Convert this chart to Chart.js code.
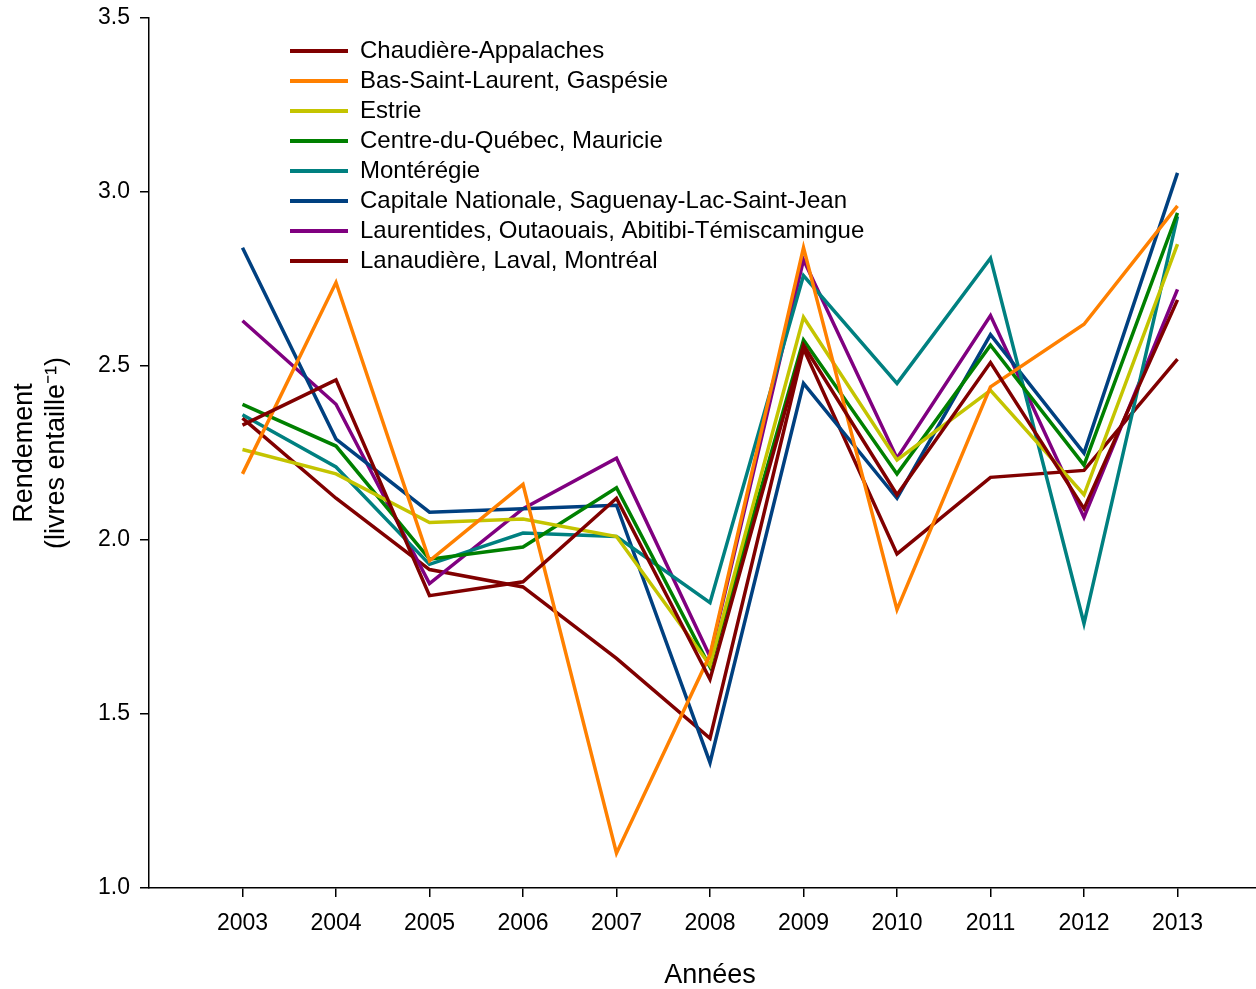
<!DOCTYPE html>
<html>
<head>
<meta charset="utf-8">
<script src="https://cdn.jsdelivr.net/npm/chart.js@4.4.1/dist/chart.umd.min.js"></script>
<style>
  body { margin: 0; background: #fff; }
  #wrap { width: 1256px; height: 989px; overflow: hidden; }
</style>
</head>
<body>
<div id="wrap"><canvas id="myChart" width="1271" height="989"></canvas></div>
<script>
// Années
const years = [2003, 2004, 2005, 2006, 2007, 2008, 2009, 2010, 2011, 2012, 2013];
const yTicks = [1.0, 1.5, 2.0, 2.5, 3.0, 3.5];

// Rendement (livres entaille-1) par région
const chaudiere   = [2.33, 2.46, 1.84, 1.88, 2.12, 1.60, 2.56, 2.13, 2.51, 2.09, 2.69];
const basStLaurent = [2.19, 2.74, 1.94, 2.16, 1.10, 1.67, 2.84, 1.80, 2.44, 2.62, 2.96];
const estrie      = [2.26, 2.19, 2.05, 2.06, 2.01, 1.64, 2.64, 2.23, 2.43, 2.13, 2.85];
const centreQc    = [2.39, 2.27, 1.945, 1.98, 2.15, 1.635, 2.575, 2.19, 2.56, 2.215, 2.94];
const monteregie  = [2.36, 2.21, 1.93, 2.02, 2.01, 1.82, 2.76, 2.45, 2.81, 1.76, 2.93];
const capitale    = [2.84, 2.29, 2.08, 2.09, 2.10, 1.36, 2.45, 2.12, 2.59, 2.25, 3.055];
const laurentides = [2.63, 2.39, 1.875, 2.09, 2.235, 1.665, 2.805, 2.235, 2.645, 2.065, 2.72];
const lanaudiere  = [2.35, 2.12, 1.915, 1.865, 1.66, 1.43, 2.55, 1.96, 2.18, 2.20, 2.52];

const regions = ['Chaudière-Appalaches', 'Bas-Saint-Laurent, Gaspésie', 'Estrie',
  'Centre-du-Québec, Mauricie', 'Montérégie', 'Capitale Nationale, Saguenay-Lac-Saint-Jean',
  'Laurentides, Outaouais, Abitibi-Témiscamingue', 'Lanaudière, Laval, Montréal'];
const series = [chaudiere, basStLaurent, estrie, centreQc, monteregie, capitale, laurentides, lanaudiere];
const colors = ['#800000', '#ff8000', '#c4c400', '#008000', '#008080', '#004080', '#800080', '#800000'];

const FONT = 'Liberation Sans, Arial, sans-serif';

// legend drawn inside the plot, top left
const insideLegend = {
  id: 'insideLegend',
  afterDraw(chart) {
    const ctx = chart.ctx;
    ctx.save();
    ctx.font = '24px ' + FONT;
    ctx.textBaseline = 'middle';
    ctx.textAlign = 'left';
    chart.data.datasets.forEach((ds, i) => {
      const y = 51 + i * 30;
      ctx.strokeStyle = ds.borderColor;
      ctx.lineWidth = 4;
      ctx.beginPath();
      ctx.moveTo(290, y);
      ctx.lineTo(348, y);
      ctx.stroke();
      ctx.fillStyle = '#000';
      ctx.fillText(ds.label, 360, y);
    });
    ctx.restore();
  }
};

const ctx = document.getElementById('myChart').getContext('2d');
const myChart = new Chart(ctx, {
  type: 'line',
  data: {
    datasets: series.map((vals, i) => ({
      label: regions[i],
      data: vals.map((v, j) => ({ x: years[j], y: v })),
      borderColor: colors[i],
      backgroundColor: colors[i],
      borderWidth: 3.5,
      pointRadius: 0,
      tension: 0,
      fill: false
    }))
  },
  options: {
    responsive: false,
    animation: false,
    devicePixelRatio: 1,
    layout: { padding: { top: 18, right: 0, left: 0, bottom: 0 } },
    plugins: {
      legend: { display: false },
      tooltip: { enabled: false }
    },
    scales: {
      x: {
        type: 'linear',
        min: 2002,
        max: 2014,
        afterBuildTicks: (scale) => { scale.ticks = years.map(v => ({ value: v })); },
        afterFit: (scale) => { scale.height = 101; scale.paddingLeft = 0; scale.paddingRight = 0; },
        border: { display: true, color: '#000', width: 1.5 },
        grid: { drawOnChartArea: false, drawTicks: true, tickLength: 9, color: '#000', lineWidth: 1.5 },
        ticks: { color: '#000', font: { family: FONT, size: 23 }, padding: 13, maxRotation: 0, autoSkip: false,
          callback: (v) => String(v) },
        title: { display: true, text: 'Années', color: '#000', font: { family: FONT, size: 27, lineHeight: 1.0 },
          padding: { top: 0, bottom: 0 } }
      },
      y: {
        type: 'linear',
        min: 1,
        max: 3.5,
        afterBuildTicks: (scale) => { scale.ticks = yTicks.map(v => ({ value: v })); },
        afterFit: (scale) => { scale.width = 149; scale.paddingTop = 0; scale.paddingBottom = 0; },
        border: { display: true, color: '#000', width: 1.5 },
        grid: { drawOnChartArea: false, drawTicks: true, tickLength: 9, color: '#000', lineWidth: 1.5 },
        ticks: { color: '#000', font: { family: FONT, size: 23 }, padding: 10,
          callback: (v) => v.toFixed(1) },
        title: { display: true, text: ['Rendement', '(livres entaille⁻¹)'], color: '#000',
          font: { family: FONT, size: 27, lineHeight: 1.2 }, padding: { top: 8, bottom: 0 } }
      }
    }
  },
  plugins: [insideLegend]
});
</script>
</body>
</html>
